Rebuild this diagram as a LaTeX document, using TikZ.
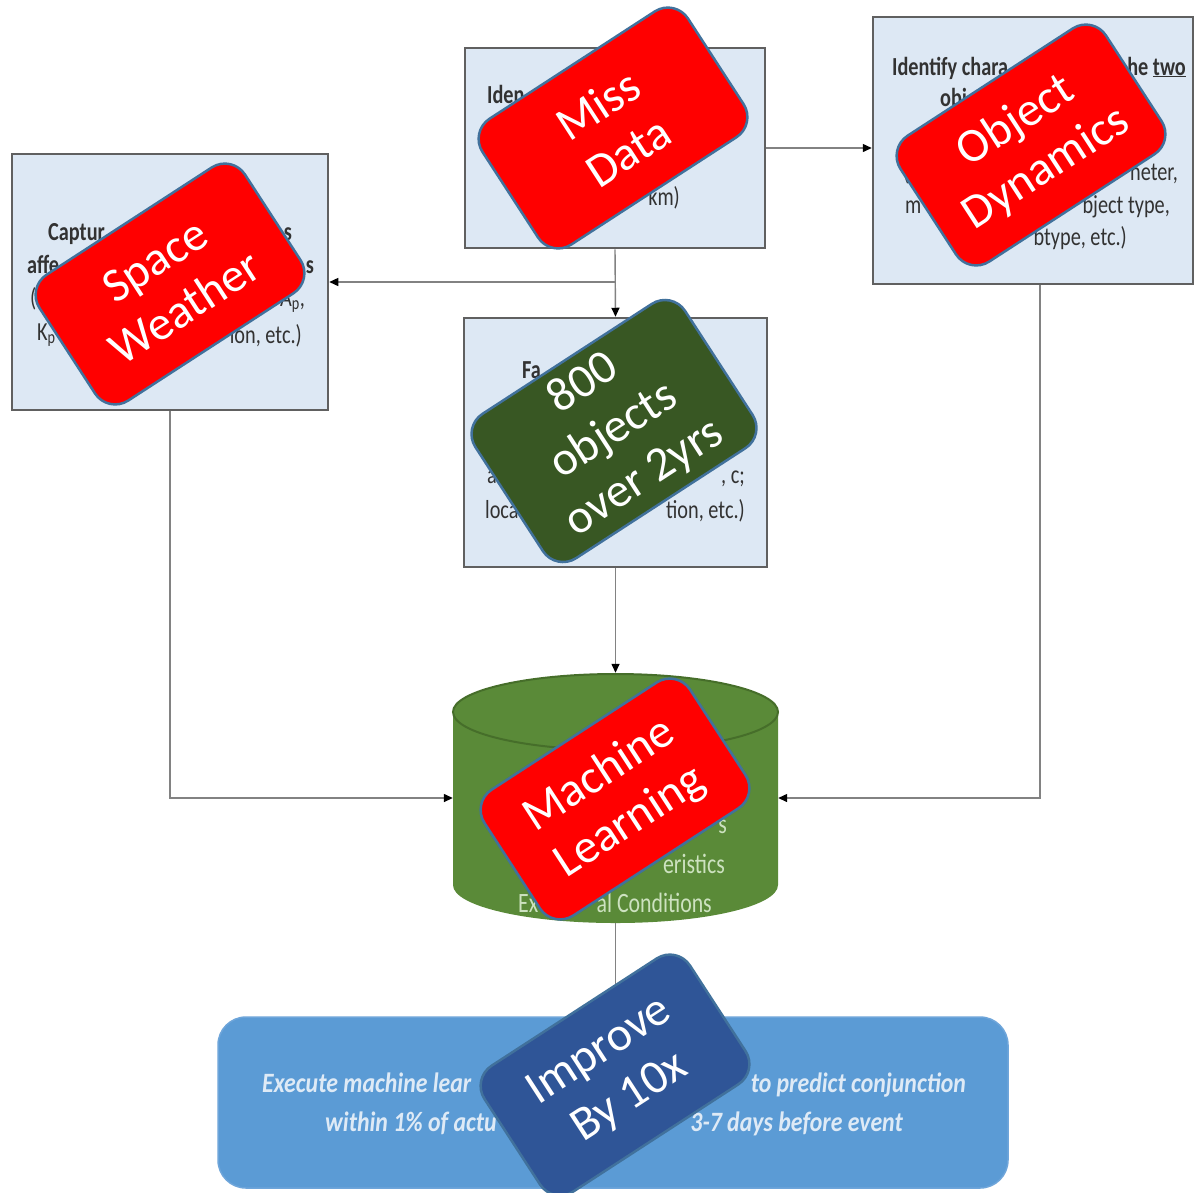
\documentclass[tikz,border=0pt]{standalone}
\usepackage{fontspec}
\setmainfont{Carlito}
\usepackage{tikz}
\usetikzlibrary{arrows.meta}

\definecolor{boxfill}{RGB}{221,232,244}
\definecolor{boxline}{RGB}{96,96,96}
\definecolor{wirecol}{RGB}{130,130,130}
\definecolor{dbgreen}{RGB}{90,138,56}
\definecolor{dbedge}{RGB}{70,110,42}
\definecolor{dbtext}{RGB}{205,226,192}
\definecolor{runblue}{RGB}{91,155,213}
\definecolor{runedge}{RGB}{110,165,218}
\definecolor{runtext}{RGB}{222,234,246}
\definecolor{tagred}{RGB}{255,0,0}
\definecolor{tagedge}{RGB}{65,113,156}
\definecolor{taggreen}{RGB}{56,87,35}
\definecolor{tagblue}{RGB}{47,85,151}
\definecolor{fragtext}{RGB}{50,50,50}

\newcommand{\fragfont}{\fontsize{26}{30}\selectfont}
\newcommand{\tagfont}{\fontsize{48}{56}\selectfont}

\begin{document}
\begin{tikzpicture}[x=1pt, y=-1pt,
	stepbox/.style={draw=boxline, line width=2.5pt, fill=boxfill, inner sep=0pt},
	wire/.style={draw=wirecol, line width=1.4pt, -{Triangle[length=9pt,width=8pt,color=black]}},
	frag/.style={text=fragtext, font=\fragfont, inner sep=0pt, xscale=.78},
	fraghead/.style={frag, font=\fragfont\bfseries},
	dbfrag/.style={frag, text=dbtext, font=\fontsize{28}{32}\selectfont},
	runfrag/.style={text=runtext, font=\fontsize{28}{32}\selectfont\bfseries\itshape, inner sep=0pt, xscale=.85},
	tag/.style={rotate=33, rounded corners=24pt, draw=tagedge, line width=2.5pt, fill=tagred,
		text=white, font=\tagfont, align=center, minimum width=245pt, minimum height=150pt, inner sep=0pt}]
		
		% page
		\fill[white] (0,0) rectangle (1198,1192);
		\useasboundingbox (0,0) rectangle (1198,1192);
		
		% flow boxes
		\node[stepbox, minimum width=300pt, minimum height=200pt] (miss) at (615,148) {};
		\node[stepbox, minimum width=320pt, minimum height=267pt] (obj) at (1033,150.5) {};
		\node[stepbox, minimum width=316pt, minimum height=256pt] (cap) at (170,282) {};
		\node[stepbox, minimum width=303pt, minimum height=249pt] (fact) at (615.5,442.5) {};
		
		% database cylinder
		\fill[dbgreen] (453,712) -- (453,885) arc[start angle=180, end angle=0, x radius=162.5, y radius=38]
			-- (778,712) arc[start angle=0, end angle=-180, x radius=162.5, y radius=38] -- cycle;
		\draw[dbedge, line width=2pt] (615.5,712) ellipse[x radius=162.5, y radius=38];
		\node[minimum width=325pt, minimum height=250pt, inner sep=0pt] (db) at (615.5,798) {};
		
		% result box
		\node[fill=runblue, draw=runedge, line width=1.5pt, rounded corners=28pt,
			minimum width=790pt, minimum height=171pt] (run) at (613,1102.5) {};
		
		% connectors
		\draw[wire] (miss.east) -- (miss.east -| obj.west);
		\draw[wire] (miss.south) -- (fact.north);
		\draw[wire] (miss.south |- cap.east) -- (cap.east);
		\draw[wire] (fact.south) -- (db.north);
		\draw[wire] (cap.south) |- (db.west);
		\draw[wire] ([xshift=7pt]obj.south) |- (db.east);
		\draw[wire] (db.south) -- (db.south |- run.north);
		
		% text left showing under the tags
		\node[fraghead, anchor=base west] (m1) at (487,103) {Iden};
		\node[frag, anchor=base east] (m2) at (680,205) {km)};
		
		\node[fraghead, anchor=base west] (o1) at (892,75) {Identify chara};
		\node[fraghead, anchor=base east] (o2) at (1186,75) {he \underline{two}};
		\node[fraghead, anchor=base west] (o3) at (940,106) {obj};
		\node[frag, anchor=base west] (o4) at (903,180) {(};
		\node[frag, anchor=base east] (o5) at (1178,180) {neter,};
		\node[frag, anchor=base west] (o6) at (905,213) {m};
		\node[frag, anchor=base east] (o7) at (1170,213) {bject type,};
		\node[frag, anchor=base east] (o8) at (1127,245) {btype, etc.)};
		
		\node[fraghead, anchor=base west] (c1) at (48,240) {Captur};
		\node[fraghead, anchor=base east] (c2) at (292,240) {s};
		\node[fraghead, anchor=base west] (c3) at (27,273) {affe};
		\node[fraghead, anchor=base east] (c4) at (314,273) {s};
		\node[frag, anchor=base west] (c5) at (30,306) {(};
		\node[frag, anchor=base east] (c6) at (305,306) {A\textsubscript{p},};
		\node[frag, anchor=base west] (c7) at (37,340) {K\textsubscript{p}};
		\node[frag, anchor=base east] (c8) at (302,343) {ion, etc.)};
		
		\node[fraghead, anchor=base west] (f1) at (522,378) {Fa};
		\node[frag, anchor=base west] (f2) at (487,483) {a};
		\node[frag, anchor=base east] (f3) at (745,483) {, c;};
		\node[frag, anchor=base west] (f4) at (485,518) {loca};
		\node[frag, anchor=base east] (f5) at (745,518) {tion, etc.)};
		
		\node[dbfrag, anchor=base east] (d1) at (727,833) {s};
		\node[dbfrag, anchor=base east] (d2) at (725,873) {eristics};
		\node[dbfrag, anchor=base west] (d3) at (518,912) {Ex};
		\node[dbfrag, anchor=base east] (d4) at (712,912) {al Conditions};
		
		\node[runfrag, anchor=base west] (r1) at (262,1092) {Execute machine lear};
		\node[runfrag, anchor=base east] (r2) at (966,1092) {to predict conjunction};
		\node[runfrag, anchor=base west] (r3) at (325,1131) {within 1\% of actu};
		\node[runfrag, anchor=base east] (r4) at (903,1131) {3-7 days before event};
		
		% tags on top
		\node[tag] (tmiss) at (613,128) {Miss\\Data};
		\node[tag] (tspace) at (170,284) {Space\\Weather};
		\node[tag] (tobj) at (1031,145) {Object\\Dynamics};
		\node[tag, fill=taggreen, minimum width=250pt, minimum height=172pt] (tcount) at (614,431) {800\\objects\\over 2yrs};
		\node[tag] (tml) at (615,799) {Machine\\Learning};
		\node[tag, fill=tagblue] (tgain) at (615,1075) {Improve\\By 10x};
		
	\end{tikzpicture}
\end{document}
